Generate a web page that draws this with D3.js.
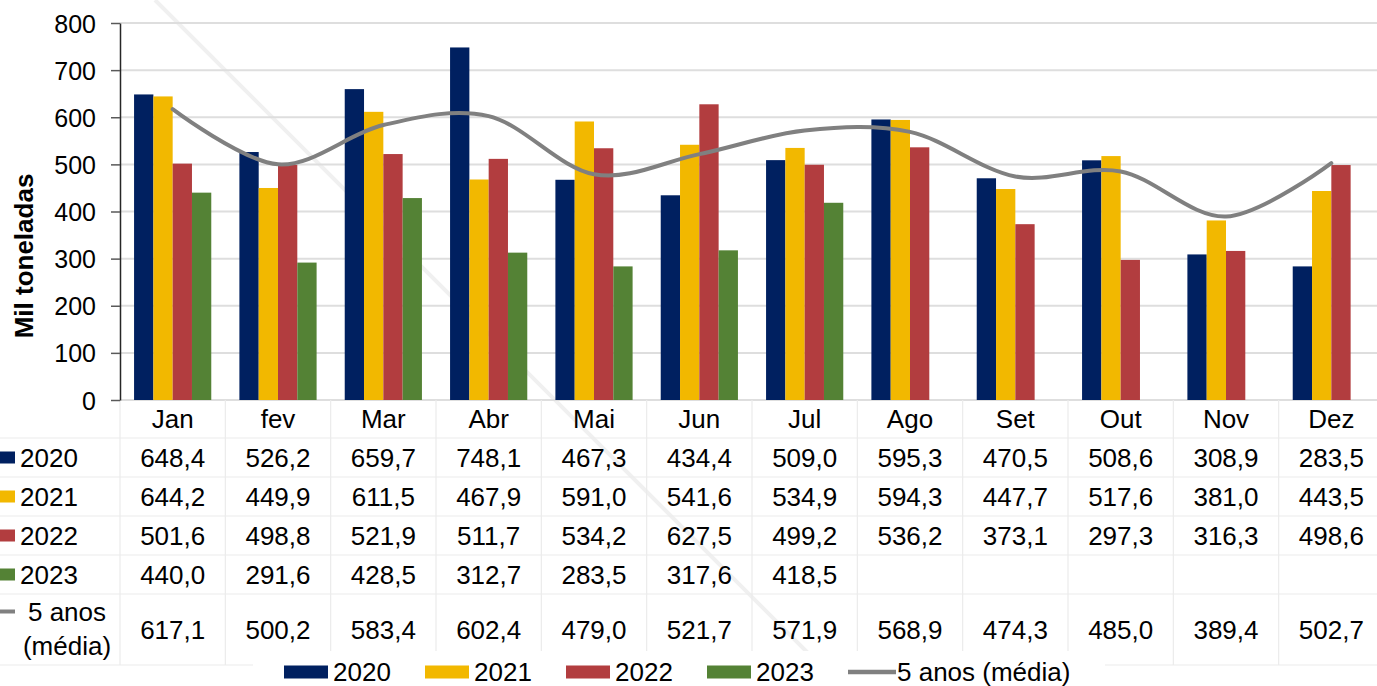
<!DOCTYPE html>
<html>
<head>
<meta charset="utf-8">
<script src="https://cdn.jsdelivr.net/npm/d3@7/dist/d3.min.js"></script>
<style>
  html, body { margin: 0; padding: 0; background: #fff; }
  svg { display: block; font-family: "Liberation Sans", Arial, sans-serif; }
</style>
</head>
<body>
<svg id="chart" width="1377" height="686"></svg>
<script>
// Monthly volumes (mil toneladas)
const months = ["Jan", "fev", "Mar", "Abr", "Mai", "Jun", "Jul", "Ago", "Set", "Out", "Nov", "Dez"];
const v2020 = [648.4, 526.2, 659.7, 748.1, 467.3, 434.4, 509.0, 595.3, 470.5, 508.6, 308.9, 283.5];
const v2021 = [644.2, 449.9, 611.5, 467.9, 591.0, 541.6, 534.9, 594.3, 447.7, 517.6, 381.0, 443.5];
const v2022 = [501.6, 498.8, 521.9, 511.7, 534.2, 627.5, 499.2, 536.2, 373.1, 297.3, 316.3, 498.6];
const v2023 = [440.0, 291.6, 428.5, 312.7, 283.5, 317.6, 418.5, null, null, null, null, null];
const avg5  = [617.1, 500.2, 583.4, 602.4, 479.0, 521.7, 571.9, 568.9, 474.3, 485.0, 389.4, 502.7];
const yTicks = [0, 100, 200, 300, 400, 500, 600, 700, 800];

const barSeries = [
  { name: "2020", values: v2020, color: "#002060" },
  { name: "2021", values: v2021, color: "#f2b800" },
  { name: "2022", values: v2022, color: "#b23d3f" },
  { name: "2023", values: v2023, color: "#548235" }
];
const lineSeries = { name: "5 anos (média)", values: avg5, color: "#808080" };

const ptBR = d3.formatLocale({ decimal: ",", thousands: ".", grouping: [3], currency: ["", ""] });
const fmt = ptBR.format(".1f");

const svg = d3.select("#chart");
const W = 1377, H = 686;

// plot frame
const plotLeft = 120, plotRight = 1384, plotTop = 23, plotBase = 400;

const x = d3.scaleBand().domain(months).range([plotLeft, plotRight])
  .paddingInner(0.267).paddingOuter(0.1335);
const step = x.step();
const xs = d3.scaleBand().domain(barSeries.map(s => s.name)).range([0, x.bandwidth()]);
const y = d3.scaleLinear().domain([0, 800]).range([plotBase, plotTop]);

// faint diagonal stroke across the page
svg.append("line")
  .attr("x1", 155).attr("y1", 0).attr("x2", 155 + H).attr("y2", H)
  .attr("stroke", "#f0f0f0").attr("stroke-width", 4);

// gridlines
svg.append("g").selectAll("line").data(yTicks.filter(d => d > 0)).join("line")
  .attr("x1", plotLeft).attr("x2", plotRight)
  .attr("y1", d => y(d)).attr("y2", d => y(d))
  .attr("stroke", "#dedede").attr("stroke-width", 2);

// table grid
const rowEdges = [438, 477, 516, 555, 594];
const tableBottom = 665;
const tg = svg.append("g").attr("stroke", "#ebebeb").attr("stroke-width", 1.2);
tg.append("line").attr("x1", plotLeft).attr("x2", plotRight).attr("y1", plotBase).attr("y2", plotBase)
  .attr("stroke", "#dedede").attr("stroke-width", 2);
rowEdges.concat([tableBottom]).forEach(yy => {
  tg.append("line").attr("x1", 0).attr("x2", plotRight).attr("y1", yy).attr("y2", yy);
});
d3.range(months.length + 1).forEach(k => {
  const xx = plotLeft + k * step;
  tg.append("line").attr("x1", xx).attr("x2", xx).attr("y1", plotBase).attr("y2", tableBottom);
});

// bars
const bars = svg.append("g");
barSeries.forEach(s => {
  bars.append("g").attr("fill", s.color)
    .selectAll("rect")
    .data(months.map((m, i) => ({ m, v: s.values[i] })).filter(d => d.v != null))
    .join("rect")
    .attr("x", d => x(d.m) + xs(s.name))
    .attr("width", xs.bandwidth())
    .attr("y", d => y(d.v))
    .attr("height", d => y(0) - y(d.v));
});

// 5-year average line
const line = d3.line()
  .x((d, i) => x(months[i]) + x.bandwidth() / 2)
  .y(d => y(d))
  .curve(d3.curveCardinal.tension(0));
svg.append("path")
  .datum(lineSeries.values)
  .attr("d", line)
  .attr("fill", "none")
  .attr("stroke", lineSeries.color)
  .attr("stroke-width", 4)
  .attr("stroke-linecap", "round");

// y axis
const yAxis = d3.axisLeft(y).tickValues(yTicks).tickSizeInner(9).tickSizeOuter(0).tickPadding(15);
const ag = svg.append("g").attr("transform", `translate(${plotLeft},0)`).call(yAxis);
ag.select(".domain").attr("stroke", "#262626").attr("stroke-width", 1.5);
ag.selectAll(".tick line").attr("stroke", "#595959").attr("stroke-width", 1.5);
ag.selectAll(".tick text").attr("font-size", 25).attr("fill", "#000")
  .attr("font-family", "'Liberation Sans', Arial, sans-serif").attr("dy", "0.36em");

svg.append("text")
  .attr("transform", `translate(24,256) rotate(-90)`)
  .attr("text-anchor", "middle").attr("dy", "0.36em")
  .attr("font-size", 26).attr("font-weight", "bold").attr("fill", "#000")
  .text("Mil toneladas");

// data table text
const headerY = 419;
const rowCenters = [457.5, 496.5, 535.5, 574.5, 629.5];
const tableFont = 26;
const tt = svg.append("g").attr("font-size", tableFont).attr("fill", "#000").attr("text-anchor", "middle");
tt.selectAll("text.month").data(months).join("text").attr("class", "month")
  .attr("x", d => x(d) + x.bandwidth() / 2).attr("y", headerY).attr("dy", "0.36em")
  .text(d => d);

const tableRows = barSeries.map(s => ({ name: s.name, values: s.values, color: s.color, kind: "bar" }))
  .concat([{ name: lineSeries.name, values: lineSeries.values, color: lineSeries.color, kind: "line" }]);

tableRows.forEach((r, ri) => {
  const cy = rowCenters[ri];
  tt.append("g").selectAll("text")
    .data(months.map((m, i) => ({ m, v: r.values[i] })).filter(d => d.v != null))
    .join("text")
    .attr("x", d => x(d.m) + x.bandwidth() / 2).attr("y", cy).attr("dy", "0.36em")
    .text(d => fmt(d.v));
  // row header: key + label
  if (r.kind === "bar") {
    svg.append("rect").attr("x", 0).attr("y", cy - 6).attr("width", 15).attr("height", 12).attr("fill", r.color);
    svg.append("text").attr("x", 20).attr("y", cy).attr("dy", "0.36em")
      .attr("font-size", tableFont).attr("fill", "#000").text(r.name);
  } else {
    svg.append("line").attr("x1", 0).attr("x2", 15).attr("y1", cy - 18).attr("y2", cy - 18)
      .attr("stroke", r.color).attr("stroke-width", 4);
    const parts = ["5 anos", "(média)"];
    svg.append("text").attr("x", 67).attr("y", cy - 18).attr("dy", "0.36em")
      .attr("text-anchor", "middle").attr("font-size", tableFont).attr("fill", "#000").text(parts[0]);
    svg.append("text").attr("x", 67).attr("y", cy + 16).attr("dy", "0.36em")
      .attr("text-anchor", "middle").attr("font-size", tableFont).attr("fill", "#000").text(parts[1]);
  }
});

// legend
const lg = svg.append("g");
lg.append("rect").attr("x", 253).attr("y", 651).attr("width", 852).attr("height", 40).attr("fill", "#fff");
const legendItems = barSeries.map(s => ({ name: s.name, color: s.color, kind: "bar" }))
  .concat([{ name: lineSeries.name, color: lineSeries.color, kind: "line" }]);
const legendY = 672;
legendItems.forEach((it, i) => {
  const lx = 284 + i * 141;
  if (it.kind === "bar") {
    lg.append("rect").attr("x", lx).attr("y", legendY - 6.5).attr("width", 44).attr("height", 13).attr("fill", it.color);
  } else {
    lg.append("line").attr("x1", lx).attr("x2", lx + 48).attr("y1", legendY).attr("y2", legendY)
      .attr("stroke", it.color).attr("stroke-width", 4.5);
  }
  lg.append("text").attr("x", lx + 49).attr("y", legendY).attr("dy", "0.36em")
    .attr("font-size", 26).attr("fill", "#000").text(it.name);
});
</script>
</body>
</html>
